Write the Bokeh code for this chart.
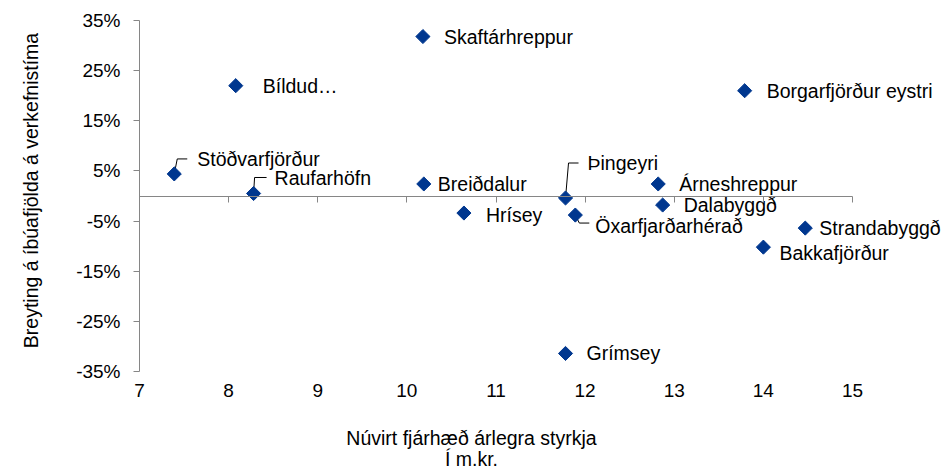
import math
from bokeh.plotting import figure
from bokeh.models import ColumnDataSource, FixedTicker, Label, Range1d, LinearAxis
from bokeh.core.properties import value
from bokeh.embed import file_html
from bokeh.resources import INLINE

# ---- data ----
names = ["Stöðvarfjörður", "Bíldud…", "Raufarhöfn", "Skaftárhreppur", "Breiðdalur",
         "Hrísey", "Þingeyri", "Öxarfjarðarhérað", "Árneshreppur", "Dalabyggð",
         "Borgarfjörður eystri", "Strandabyggð", "Bakkafjörður", "Grímsey"]
styrkur = [7.39, 8.08, 8.28, 10.18, 10.19, 10.64, 11.78, 11.89, 12.82, 12.87, 13.79, 14.47, 14.0, 11.78]
breyting = [4.4, 22.0, 0.5, 31.8, 2.4, -3.4, -0.4, -3.8, 2.4, -1.8, 21.0, -6.4, -10.2, -31.4]

x_ticks = [7, 8, 9, 10, 11, 12, 13, 14, 15]
y_ticks = [-35, -25, -15, -5, 5, 15, 25, 35]
y_tick_labels = ["-35%", "-25%", "-15%", "-5%", "5%", "15%", "25%", "35%"]

x_title_1 = "Núvirt fjárhæð árlegra styrkja"
x_title_2 = "Í m.kr."
y_title = "Breyting á íbúafjölda á verkefnistíma"

# ---- styling (label placement in screen pixels) ----
label_dx = [23, 27, 21, 21, 14, 22, 22, 20, 21, 21, 22, 14, 16, 21]
label_dy = [-15, 0, -15, 0, 0, 2, -35, 11, 0, 0, 0, 0, 6, 0]
leaders = {
    0: [(0, 0), (3, -15), (13, -15)],
    2: [(0, 0), (1, -16), (13, -16)],
    6: [(0, 0), (3, -35), (13, -35)],
    7: [(0, 0), (4, 8), (14, 8)],
}

FONT = "Liberation Sans"
BLUE = "#00378f"
GREY = "#868686"

W, H = 942, 468
X0, X1 = 7, 15          # axis extent
Y0, Y1 = -35, 35
AX_L, AX_R = 139, 852   # pixel extent of x axis
AX_T, AX_B = 20, 371    # pixel extent of y axis
kx = (AX_R - AX_L) / (X1 - X0)
ky = (AX_B - AX_T) / (Y1 - Y0)


def px2x(px):
    return X0 + (px - AX_L) / kx


def py2y(py):
    return Y1 - (py - AX_T) / ky


p = figure(width=W, height=H, output_backend="svg", toolbar_location=None,
           x_range=Range1d(px2x(0), px2x(W)), y_range=Range1d(py2y(H), py2y(0)),
           x_axis_location=None, y_axis_location=None,
           min_border_left=0, min_border_right=0, min_border_top=0, min_border_bottom=0)
p.outline_line_color = None
p.xgrid.visible = False
p.ygrid.visible = False
p.background_fill_color = "white"
p.border_fill_color = "white"

# y axis at x = 7
ya = LinearAxis(fixed_location=X0, bounds=(Y0, Y1), ticker=FixedTicker(ticks=y_ticks),
                major_label_overrides={t: l for t, l in zip(y_ticks, y_tick_labels)},
                axis_line_color=GREY, major_tick_line_color=GREY, minor_tick_line_color=None,
                major_tick_out=6, major_tick_in=0, major_label_standoff=13,
                major_label_text_font=FONT, major_label_text_font_size="19px",
                major_label_text_color="black")
p.add_layout(ya, "left")

# zero axis: line with downward tick marks, no labels
zero_axis = LinearAxis(fixed_location=0, bounds=(X0, X1), ticker=FixedTicker(ticks=x_ticks),
                       axis_line_color=GREY, major_tick_line_color=GREY,
                       minor_tick_line_color=None, major_tick_out=6, major_tick_in=0,
                       major_label_text_color=None)
p.add_layout(zero_axis, "below")

# bottom tick labels
lab_axis = LinearAxis(fixed_location=Y0, bounds=(X0, X1), ticker=FixedTicker(ticks=x_ticks),
                      axis_line_color=None, major_tick_line_color=None,
                      minor_tick_line_color=None, major_tick_out=0, major_tick_in=0,
                      major_label_standoff=12, major_label_text_font=FONT,
                      major_label_text_font_size="19px", major_label_text_color="black")
p.add_layout(lab_axis, "below")

# leader lines (pixel offsets converted through the scale)
lx, ly = [], []
for i, path in leaders.items():
    lx.append([styrkur[i] + dx / kx for dx, dy in path])
    ly.append([breyting[i] - dy / ky for dx, dy in path])
p.multi_line(xs=lx, ys=ly, line_color="black", line_width=1)

src = ColumnDataSource(dict(x=styrkur, y=breyting, name=names, dx=label_dx, dy=label_dy))
p.scatter(x="x", y="y", source=src, marker="square", size=10, angle=math.pi / 4,
          fill_color=BLUE, line_color=BLUE)
p.text(x="x", y="y", text="name", source=src, x_offset="dx", y_offset="dy",
       text_font=value(FONT), text_font_size="19.5px", text_color="black",
       text_baseline="middle", text_align="left")

# axis titles
for txt, py in [(x_title_1, 437), (x_title_2, 458)]:
    p.add_layout(Label(x=px2x(471), y=py2y(py), text=txt,
                       text_font=FONT, text_font_size="19.5px", text_color="black",
                       text_align="center", text_baseline="middle"))
p.add_layout(Label(x=px2x(30), y=py2y(190), text=y_title, angle=math.pi / 2,
                   text_font=FONT, text_font_size="19.5px", text_color="black",
                   text_align="center", text_baseline="middle"))

open("out.html", "w").write(file_html(p, INLINE))
